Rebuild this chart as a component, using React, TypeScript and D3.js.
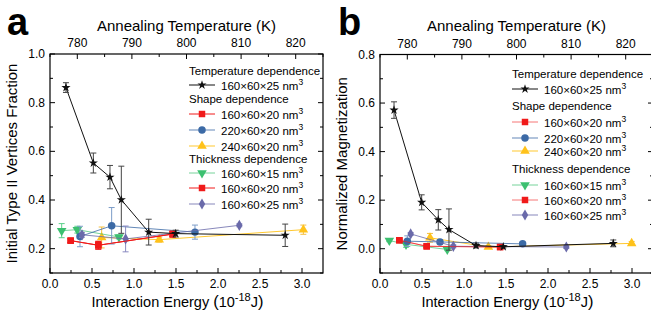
import React from "react";
import * as d3 from "d3";

// ---------- DATA ----------
// Panel a: Initial Type II vertices fraction vs interaction energy
const tempEnergyA = [0.19, 0.516, 0.714, 0.849, 1.175, 1.496, 2.8];
const tempFracA = [0.862, 0.552, 0.494, 0.401, 0.268, 0.262, 0.255];
const tempErrA = [0.02, 0.041, 0.048, 0.138, 0.053, 0.014, 0.046];

const shape160EnergyA = [0.246, 0.575, 1.46];
const shape160FracA = [0.233, 0.214, 0.26];
const shape160ErrA = [0.008, 0.016, 0.012];

const shape220EnergyA = [0.357, 0.734, 1.726];
const shape220FracA = [0.25, 0.294, 0.268];
const shape220ErrA = [0.042, 0.075, 0.029];

const shape240EnergyA = [0.615, 1.3, 3.016];
const shape240FracA = [0.246, 0.237, 0.278];
const shape240ErrA = [0.043, 0.01, 0.019];

const thick15EnergyA = [0.139, 0.325, 0.821];
const thick15FracA = [0.274, 0.278, 0.248];
const thick15ErrA = [0.029, 0.014, 0.008];

const thick20EnergyA = [0.246, 0.575, 1.46];
const thick20FracA = [0.233, 0.214, 0.26];
const thick20ErrA = [0.008, 0.016, 0.012];

const thick25EnergyA = [0.381, 0.9, 2.254];
const thick25FracA = [0.257, 0.24, 0.296];
const thick25ErrA = [0.01, 0.053, 0.006];

// Panel b: normalized magnetization vs interaction energy
const tempEnergyB = [0.167, 0.496, 0.694, 0.821, 1.143, 1.468, 2.777];
const tempMagB = [0.571, 0.191, 0.119, 0.079, 0.013, 0.008, 0.022];
const tempErrB = [0.034, 0.031, 0.042, 0.085, 0.01, 0.005, 0.014];

const shape160EnergyB = [0.23, 0.556, 1.43];
const shape160MagB = [0.035, 0.01, 0.007];
const shape160ErrB = [0.005, 0.005, 0.005];

const shape220EnergyB = [0.325, 0.714, 1.698];
const shape220MagB = [0.031, 0.028, 0.02];
const shape220ErrB = [0.022, 0.01, 0.005];

const shape240EnergyB = [0.595, 1.29, 2.996];
const shape240MagB = [0.045, 0.007, 0.022];
const shape240ErrB = [0.018, 0.005, 0.008];

const thick15EnergyB = [0.111, 0.31, 0.801];
const thick15MagB = [0.034, 0.018, -0.003];
const thick15ErrB = [0.005, 0.012, 0.005];

const thick20EnergyB = [0.23, 0.556, 1.43];
const thick20MagB = [0.035, 0.01, 0.007];
const thick20ErrB = [0.005, 0.005, 0.005];

const thick25EnergyB = [0.365, 0.873, 2.218];
const thick25MagB = [0.061, 0.01, 0.007];
const thick25ErrB = [0.006, 0.006, 0.006];

// Ticks
const energyTicks = [0, 0.5, 1.0, 1.5, 2.0, 2.5, 3.0];
const tempTicks = [780, 790, 800, 810, 820];
const fracTicks = [0.2, 0.4, 0.6, 0.8, 1.0];
const magTicks = [0.0, 0.2, 0.4, 0.6, 0.8];

// Legend
const legendGroups = ["Temperature dependence", "Shape dependence", "Thickness dependence"];
const seriesLabels = ["160×60×25", "160×60×20", "220×60×20", "240×60×20", "160×60×15", "160×60×20", "160×60×25"];

// ---------- STYLE ----------
type Series = { x: number[]; y: number[]; e: number[]; color: string; errColor: string; sym: any; size: number; label: string; lineOpacity: number };

const BLACK = "#111111";
const RED = "#f01a1a";
const BLUE = "#3c6aa6";
const YELLOW = "#ffc21a";
const GREEN = "#3cc070";
const PURPLE = "#6a6aaa";

const starSym = d3.symbolStar;
const FONT = "'Liberation Sans', Arial, sans-serif";

function mkSeries(x, y, e, color, errColor, sym, size, label, lineOpacity = 1): Series {
  return { x, y, e, color, errColor, sym, size, label, lineOpacity };
}

const seriesA: Series[] = [
  mkSeries(shape240EnergyA, shape240FracA, shape240ErrA, YELLOW, "#f5c040", d3.symbolTriangle, 40, seriesLabels[3], 0.9),
  mkSeries(thick15EnergyA, thick15FracA, thick15ErrA, GREEN, "#5cd08a", d3.symbolTriangle, 40, seriesLabels[4], 0.7),
  mkSeries(shape160EnergyA, shape160FracA, shape160ErrA, RED, RED, d3.symbolSquare, 42, seriesLabels[1]),
  mkSeries(shape220EnergyA, shape220FracA, shape220ErrA, BLUE, "#7c9cc8", d3.symbolCircle, 44, seriesLabels[2], 0.8),
  mkSeries(thick25EnergyA, thick25FracA, thick25ErrA, PURPLE, "#8a8ac0", d3.symbolDiamond, 36, seriesLabels[6], 0.8),
  mkSeries(thick20EnergyA, thick20FracA, thick20ErrA, RED, RED, d3.symbolSquare, 42, seriesLabels[5]),
  mkSeries(tempEnergyA, tempFracA, tempErrA, BLACK, "#444", starSym, 26, seriesLabels[0]),
];

const seriesB: Series[] = [
  mkSeries(shape240EnergyB, shape240MagB, shape240ErrB, YELLOW, "#f5c040", d3.symbolTriangle, 40, seriesLabels[3], 0.9),
  mkSeries(thick15EnergyB, thick15MagB, thick15ErrB, GREEN, "#5cd08a", d3.symbolTriangle, 40, seriesLabels[4], 0.7),
  mkSeries(shape160EnergyB, shape160MagB, shape160ErrB, RED, RED, d3.symbolSquare, 42, seriesLabels[1], 0.6),
  mkSeries(shape220EnergyB, shape220MagB, shape220ErrB, BLUE, "#7c9cc8", d3.symbolCircle, 44, seriesLabels[2], 0.8),
  mkSeries(thick25EnergyB, thick25MagB, thick25ErrB, PURPLE, "#8a8ac0", d3.symbolDiamond, 36, seriesLabels[6], 0.8),
  mkSeries(thick20EnergyB, thick20MagB, thick20ErrB, RED, RED, d3.symbolSquare, 42, seriesLabels[5], 0.6),
  mkSeries(tempEnergyB, tempMagB, tempErrB, BLACK, "#444", starSym, 26, seriesLabels[0]),
];

// order in legend: temp, shape160, shape220, shape240, thick15, thick20, thick25
function legendOrder(s: Series[]) {
  return [s[6], s[2], s[3], s[0], s[1], s[5], s[4]];
}

type PanelProps = {
  letter: string;
  letterX: number;
  left: number; right: number; top: number; bottom: number;
  yDomain: [number, number];
  yTicks: number[];
  yLabel: string;
  series: Series[];
  legendX: number; legendY: number[];
};

function Panel(p: PanelProps) {
  const x = d3.scaleLinear().domain([0, 3.25]).range([p.left, p.right]);
  const t = d3.scaleLinear().domain([775, 825]).range([p.left, p.right]);
  const y = d3.scaleLinear().domain(p.yDomain).range([p.bottom, p.top]);
  const midX = (p.left + p.right) / 2;
  const midY = (p.top + p.bottom) / 2;

  const xMinor = d3.range(0.25, 3.25, 0.5);
  const tMinor = d3.range(775, 826, 10);
  const yMin = d3.range(p.yDomain[0], p.yDomain[1] + 1e-9, 0.1).filter(v => !p.yTicks.some(tk => Math.abs(tk - v) < 1e-6));

  const line = d3.line<number>();
  const tickStyle = { stroke: "#000", strokeWidth: 1 };
  const isDown = (s: Series) => s.sym === d3.symbolTriangle && s.color === GREEN;

  const lg = legendOrder(p.series);
  const lx = p.legendX;
  return (
    <g fontFamily={FONT}>
      <text x={p.letterX} y={35} fontSize={38} fontWeight="bold">{p.letter}</text>
      {/* frame */}
      <rect x={p.left} y={p.top} width={p.right - p.left} height={p.bottom - p.top} fill="none" stroke="#000" strokeWidth={1.2} />
      {/* bottom ticks */}
      {energyTicks.map(v => (
        <g key={"bx" + v}>
          <line x1={x(v)} x2={x(v)} y1={p.bottom} y2={p.bottom - 5} {...tickStyle} />
          <text x={x(v)} y={p.bottom + 15} fontSize={12} textAnchor="middle">{v.toFixed(1)}</text>
        </g>
      ))}
      {xMinor.map(v => <line key={"bxm" + v} x1={x(v)} x2={x(v)} y1={p.bottom} y2={p.bottom - 3} {...tickStyle} />)}
      {/* top ticks */}
      {tempTicks.map(v => (
        <g key={"tx" + v}>
          <line x1={t(v)} x2={t(v)} y1={p.top} y2={p.top + 5} {...tickStyle} />
          <text x={t(v)} y={p.top - 7} fontSize={12} textAnchor="middle">{v}</text>
        </g>
      ))}
      {tMinor.map(v => <line key={"txm" + v} x1={t(v)} x2={t(v)} y1={p.top} y2={p.top + 3} {...tickStyle} />)}
      {/* y ticks */}
      {p.yTicks.map(v => (
        <g key={"y" + v}>
          <line x1={p.left} x2={p.left + 5} y1={y(v)} y2={y(v)} {...tickStyle} />
          <line x1={p.right} x2={p.right - 5} y1={y(v)} y2={y(v)} {...tickStyle} />
          <text x={p.left - 5} y={y(v) + 4} fontSize={12} textAnchor="end">{v.toFixed(1)}</text>
        </g>
      ))}
      {yMin.map(v => (
        <g key={"ym" + v}>
          <line x1={p.left} x2={p.left + 3} y1={y(v)} y2={y(v)} {...tickStyle} />
          <line x1={p.right} x2={p.right - 3} y1={y(v)} y2={y(v)} {...tickStyle} />
        </g>
      ))}
      {/* axis titles */}
      <text x={midX} y={31} fontSize={15} textAnchor="middle">Annealing Temperature (K)</text>
      <text x={midX - 9} y={307} fontSize={14.5} textAnchor="middle">
        Interaction Energy <tspan fontSize={16.5}>(</tspan>10<tspan dy={-6} fontSize={11}>-18</tspan><tspan dy={6}>J</tspan><tspan fontSize={16.5}>)</tspan>
      </text>
      <text transform={`translate(${p.left - 33},${midY}) rotate(-90)`} fontSize={15} textAnchor="middle">{p.yLabel}</text>
      {/* series */}
      {p.series.map((s, i) => {
        const pts: [number, number][] = s.x.map((v, j) => [x(v), y(s.y[j])]);
        const sym = d3.symbol().type(s.sym).size(s.size)();
        return (
          <g key={"s" + i}>
            <path d={line(pts as any) || ""} fill="none" stroke={s.color} strokeOpacity={s.lineOpacity} strokeWidth={1} />
            {s.x.map((v, j) => (
              <g key={"e" + j} stroke={s.errColor} strokeWidth={1}>
                <line x1={x(v)} x2={x(v)} y1={y(s.y[j] - s.e[j])} y2={y(s.y[j] + s.e[j])} />
                <line x1={x(v) - 3} x2={x(v) + 3} y1={y(s.y[j] - s.e[j])} y2={y(s.y[j] - s.e[j])} />
                <line x1={x(v) - 3} x2={x(v) + 3} y1={y(s.y[j] + s.e[j])} y2={y(s.y[j] + s.e[j])} />
              </g>
            ))}
            {pts.map((pt, j) => (
              <path key={"m" + j} d={sym || ""} transform={`translate(${pt[0]},${pt[1]})${isDown(s) ? " rotate(180)" : ""}`} fill={s.color} />
            ))}
          </g>
        );
      })}
      {/* legend */}
      <g fontSize={11.5}>
        <text x={lx} y={p.legendY[0] + 4}>{legendGroups[0]}</text>
        <text x={lx} y={p.legendY[2] + 4}>{legendGroups[1]}</text>
        <text x={lx} y={p.legendY[6] + 4}>{legendGroups[2]}</text>
        {lg.map((s, i) => {
          const rowIdx = [1, 3, 4, 5, 7, 8, 9][i];
          const yy = p.legendY[rowIdx];
          const sym = d3.symbol().type(s.sym).size(s.size)();
          const x1 = lx, x2 = lx + 26;
          return (
            <g key={"lg" + i}>
              <line x1={x1} x2={x2} y1={yy} y2={yy} stroke={s.color} strokeOpacity={s.lineOpacity} strokeWidth={1} />
              <path d={sym || ""} transform={`translate(${(x1 + x2) / 2},${yy})${isDown(s) ? " rotate(180)" : ""}`} fill={s.color} />
              <text x={x2 + 6} y={yy + 4.5}>{s.label} nm<tspan dy={-5} fontSize={8.5}>3</tspan></text>
            </g>
          );
        })}
      </g>
    </g>
  );
}

export default function App() {
  return (
    <svg width={651} height={320} style={{ position: "absolute", left: 0, top: 0, background: "#fff" }}>
      <rect width={651} height={320} fill="#fff" />
      <Panel letter="a" letterX={7} left={50} right={323} top={54} bottom={273}
        yDomain={[0.1, 1.0]} yTicks={fracTicks} yLabel="Initial Type II Vertices Fraction"
        series={seriesA} legendX={189} legendY={[71, 85, 99, 114, 130, 146, 159, 173, 188, 204]} />
      <Panel letter="b" letterX={338} left={380} right={653} top={54.5} bottom={273}
        yDomain={[-0.1, 0.8]} yTicks={magTicks} yLabel="Normalized Magnetization"
        series={seriesB} legendX={512} legendY={[74, 89, 106, 122, 138, 151, 169, 185, 200, 215]} />
    </svg>
  );
}
